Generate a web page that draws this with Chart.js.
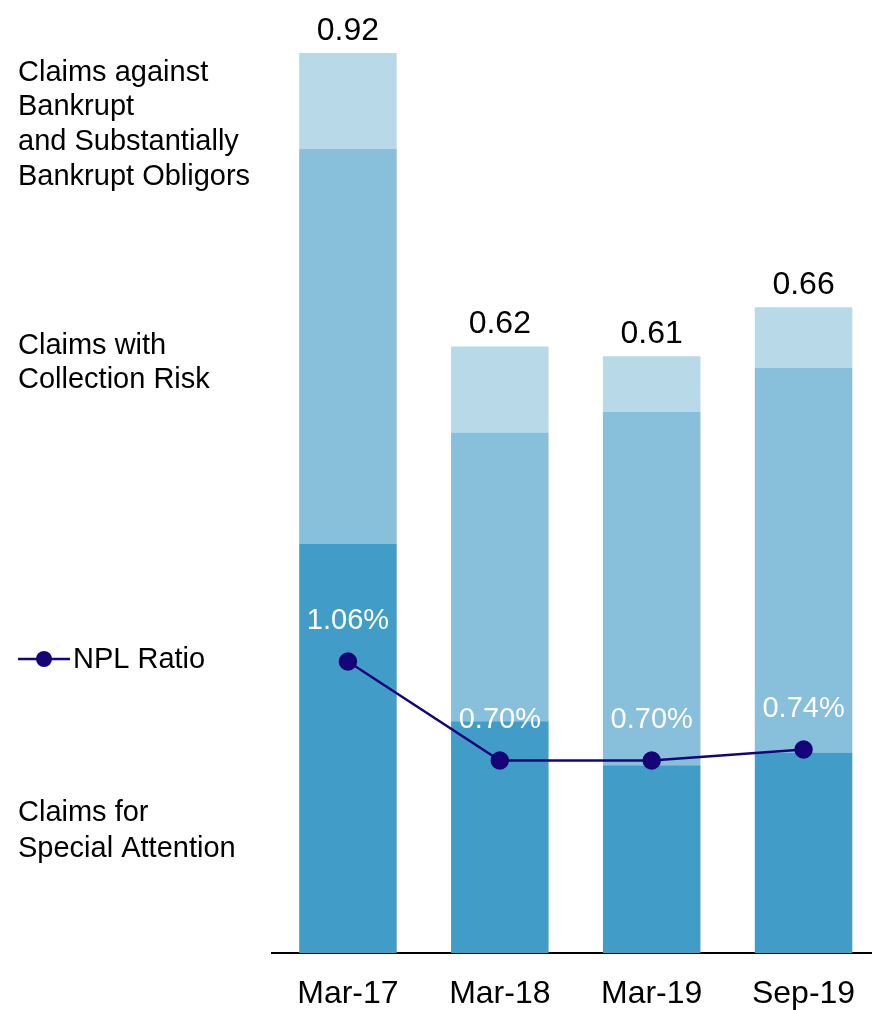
<!DOCTYPE html>
<html>
<head>
<meta charset="utf-8">
<script src="https://cdn.jsdelivr.net/npm/chart.js@4"></script>
<style>
    html, body { margin: 0; padding: 0; background: #fff; overflow: hidden; }
    #wrap { width: 890px; height: 1010px; }
</style>
</head>
<body>
<div id="wrap"><canvas id="nplChart" width="890" height="1010"></canvas></div>
<script>
// 데이터
var periods = ['Mar-17', 'Mar-18', 'Mar-19', 'Sep-19'];
var specialAttention = [0.418, 0.237, 0.192, 0.205];
var collectionRisk = [0.404, 0.295, 0.361, 0.393];
var bankrupt = [0.098, 0.088, 0.057, 0.062];
var nplRatio = [1.06, 0.70, 0.70, 0.74];

var FONT = 'Liberation Sans, Arial, sans-serif';

// 왼쪽 범례 텍스트 + 합계 + 비율 라벨
var labelPlugin = {
    id: 'labelPlugin',
    afterDatasetsDraw: function (chart) {
        var ctx = chart.ctx;
        ctx.save();
        ctx.font = '29px ' + FONT;
        ctx.textBaseline = 'middle';

        // 범례 (왼쪽)
        ctx.fillStyle = '#000';
        ctx.textAlign = 'left';
        var leftTexts = [
            ['Claims against', 73], ['Bankrupt', 107], ['and Substantially', 142], ['Bankrupt Obligors', 177],
            ['Claims with', 346], ['Collection Risk', 380],
            ['Claims for', 813], ['Special Attention', 849],
        ];
        leftTexts.forEach(function (t) {
            ctx.fillText(t[0], 18, t[1]);
        });
        ctx.fillText('NPL Ratio', 73, 660);
        ctx.strokeStyle = '#160578';
        ctx.lineWidth = 2.5;
        ctx.beginPath();
        ctx.moveTo(18, 659);
        ctx.lineTo(70, 659);
        ctx.stroke();
        ctx.fillStyle = '#160578';
        ctx.beginPath();
        ctx.arc(44, 659, 8, 0, Math.PI * 2);
        ctx.fill();

        // 합계 라벨
        var topMeta = chart.getDatasetMeta(2);
        ctx.font = '32px ' + FONT;
        ctx.fillStyle = '#000';
        ctx.textAlign = 'center';
        ctx.textBaseline = 'alphabetic';
        topMeta.data.forEach(function (bar, i) {
            var total = specialAttention[i] + collectionRisk[i] + bankrupt[i];
            ctx.fillText(total.toFixed(2), bar.x, bar.y - 13);
        });

        // NPL 비율 라벨
        var lineMeta = chart.getDatasetMeta(3);
        ctx.font = '29px ' + FONT;
        ctx.fillStyle = '#fff';
        lineMeta.data.forEach(function (pt, i) {
            ctx.fillText(nplRatio[i].toFixed(2) + '%', pt.x, pt.y - 33);
        });
        ctx.restore();
    },
};

var ctx = document.getElementById('nplChart').getContext('2d');
new Chart(ctx, {
    type: 'bar',
    data: {
        labels: periods,
        datasets: [
            { label: 'Claims for Special Attention', data: specialAttention, backgroundColor: '#419cc8', yAxisID: 'y', order: 2 },
            { label: 'Claims with Collection Risk', data: collectionRisk, backgroundColor: '#88bfda', yAxisID: 'y', order: 2 },
            { label: 'Claims against Bankrupt and Substantially Bankrupt Obligors', data: bankrupt, backgroundColor: '#b8d9e8', yAxisID: 'y', order: 2 },
            {
                type: 'line',
                label: 'NPL Ratio',
                data: nplRatio,
                yAxisID: 'y2',
                borderColor: '#160578',
                backgroundColor: '#160578',
                borderWidth: 2.5,
                pointRadius: 8,
                pointHoverRadius: 8,
                order: 1,
            },
        ],
    },
    options: {
        responsive: false,
        animation: false,
        events: [],
        layout: { padding: { left: 272, right: 0, top: 53, bottom: 0 } },
        datasets: { bar: { barPercentage: 1, categoryPercentage: 0.642 } },
        scales: {
            x: {
                stacked: true,
                grid: { display: false, drawTicks: false },
                border: { display: true, color: '#000', width: 2 },
                ticks: { color: '#000', font: { size: 32, family: FONT }, padding: 22 },
                afterFit: function (scale) { scale.height = 57; },
            },
            y: { stacked: true, display: false, min: 0, max: 0.92 },
            y2: { display: false, min: 0, max: 3.273 },
        },
        plugins: {
            legend: { display: false },
            tooltip: { enabled: false },
        },
    },
    plugins: [labelPlugin],
});
</script>
</body>
</html>
